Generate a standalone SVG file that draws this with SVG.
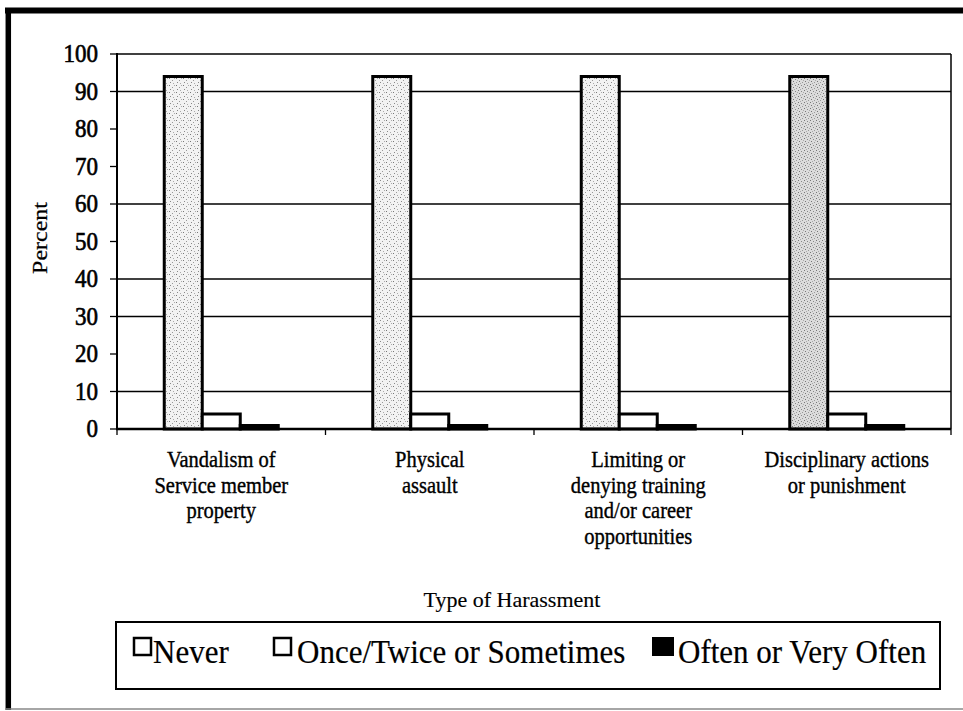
<svg xmlns="http://www.w3.org/2000/svg" width="963" height="711" viewBox="0 0 963 711">
<style>
text{font-family:"Liberation Serif","Times New Roman",serif;fill:#000}
.tick{font-size:23px;text-anchor:end;stroke:#000;stroke-width:0.6}
.cat{font-size:20.5px;text-anchor:middle;stroke:#000;stroke-width:0.35}
.leg{font-size:31px;stroke:#000;stroke-width:0.2}
.grid{stroke:#000;stroke-width:1.3}
.never{stroke:#000;stroke-width:3}
.once{fill:#fff;stroke:#000;stroke-width:3}
.often{fill:#000;stroke:#000;stroke-width:3}
.tk{stroke:#000;stroke-width:1.3}
</style>
<defs>
<pattern id="stip" width="7" height="7" patternUnits="userSpaceOnUse">
<rect width="7" height="7" fill="#f2f2f2"/>
<rect x="1" y="1" width="1" height="1" fill="#777"/>
<rect x="4" y="3" width="1" height="1" fill="#999"/>
<rect x="2" y="5" width="1" height="1" fill="#888"/>
<rect x="5" y="6" width="1" height="1" fill="#aaa"/>
<rect x="6" y="1" width="1" height="1" fill="#aaa"/>
</pattern>
<pattern id="stip2" width="6" height="6" patternUnits="userSpaceOnUse">
<rect width="6" height="6" fill="#dcdcdc"/>
<rect x="0" y="0" width="1" height="1" fill="#777"/>
<rect x="3" y="1" width="1" height="1" fill="#888"/>
<rect x="1" y="3" width="1" height="1" fill="#777"/>
<rect x="4" y="4" width="1" height="1" fill="#999"/>
<rect x="2" y="5" width="1" height="1" fill="#aaa"/>
<rect x="5" y="2" width="1" height="1" fill="#aaa"/>
</pattern>
</defs>
<rect width="963" height="711" fill="#fff"/>
<g id="frame">
<line x1="5" y1="10.5" x2="963" y2="10.5" stroke="#000" stroke-width="6"/>
<line x1="8.3" y1="8" x2="8.3" y2="710" stroke="#000" stroke-width="5.5"/>
<line x1="5" y1="709" x2="963" y2="709" stroke="#888" stroke-width="1.5"/>
</g>
<g id="plot-area">
<line class="grid" x1="117" y1="91.5" x2="951" y2="91.5"/>
<line class="grid" x1="117" y1="204" x2="951" y2="204"/>
<line class="grid" x1="117" y1="279" x2="951" y2="279"/>
<line class="grid" x1="117" y1="316.5" x2="951" y2="316.5"/>
<line class="grid" x1="117" y1="391.5" x2="951" y2="391.5"/>
<line x1="117" y1="54" x2="951" y2="54" stroke="#000" stroke-width="1.5"/>
<line x1="951" y1="54" x2="951" y2="429" stroke="#000" stroke-width="1.5"/>
</g>
<g id="y-axis">
<line x1="117" y1="53" x2="117" y2="430" stroke="#000" stroke-width="2"/>
<g class="tk">
<line x1="110" y1="54" x2="117" y2="54"/>
<line x1="110" y1="91.5" x2="117" y2="91.5"/>
<line x1="110" y1="129" x2="117" y2="129"/>
<line x1="110" y1="166.5" x2="117" y2="166.5"/>
<line x1="110" y1="204" x2="117" y2="204"/>
<line x1="110" y1="241.5" x2="117" y2="241.5"/>
<line x1="110" y1="279" x2="117" y2="279"/>
<line x1="110" y1="316.5" x2="117" y2="316.5"/>
<line x1="110" y1="354" x2="117" y2="354"/>
<line x1="110" y1="391.5" x2="117" y2="391.5"/>
<line x1="110" y1="429" x2="117" y2="429"/>
</g>
<text class="tick" transform="translate(98 62) scale(1 1.12)">100</text>
<text class="tick" transform="translate(98 99.5) scale(1 1.12)">90</text>
<text class="tick" transform="translate(98 137) scale(1 1.12)">80</text>
<text class="tick" transform="translate(98 174.5) scale(1 1.12)">70</text>
<text class="tick" transform="translate(98 212) scale(1 1.12)">60</text>
<text class="tick" transform="translate(98 249.5) scale(1 1.12)">50</text>
<text class="tick" transform="translate(98 287) scale(1 1.12)">40</text>
<text class="tick" transform="translate(98 324.5) scale(1 1.12)">30</text>
<text class="tick" transform="translate(98 362) scale(1 1.12)">20</text>
<text class="tick" transform="translate(98 399.5) scale(1 1.12)">10</text>
<text class="tick" transform="translate(98 437) scale(1 1.12)">0</text>
<text font-size="22" text-anchor="middle" stroke="#000" stroke-width="0.25" transform="translate(47 238) rotate(-90) scale(1.09 1)">Percent</text>
</g>
<g id="bars-vandalism">
<rect class="never" x="164.25" y="76.5" width="38" height="352.5" fill="url(#stip)"/>
<rect class="once" x="202.25" y="414" width="38" height="15"/>
<rect class="often" x="240.25" y="425.5" width="38" height="3.5"/>
</g>
<g id="bars-physical">
<rect class="never" x="372.75" y="76.5" width="38" height="352.5" fill="url(#stip)"/>
<rect class="once" x="410.75" y="414" width="38" height="15"/>
<rect class="often" x="448.75" y="425.5" width="38" height="3.5"/>
</g>
<g id="bars-limiting">
<rect class="never" x="581.25" y="76.5" width="38" height="352.5" fill="url(#stip)"/>
<rect class="once" x="619.25" y="414" width="38" height="15"/>
<rect class="often" x="657.25" y="425.5" width="38" height="3.5"/>
</g>
<g id="bars-disciplinary">
<rect class="never" x="789.75" y="76.5" width="38" height="352.5" fill="url(#stip2)"/>
<rect class="once" x="827.75" y="414" width="38" height="15"/>
<rect class="often" x="865.75" y="425.5" width="38" height="3.5"/>
</g>
<g id="x-axis">
<line x1="116" y1="429" x2="951" y2="429" stroke="#000" stroke-width="2.7"/>
<g class="tk">
<line x1="117" y1="429" x2="117" y2="435"/>
<line x1="325.5" y1="429" x2="325.5" y2="435"/>
<line x1="534" y1="429" x2="534" y2="435"/>
<line x1="742.5" y1="429" x2="742.5" y2="435"/>
<line x1="951" y1="429" x2="951" y2="435"/>
</g>
<text class="cat" transform="translate(221.25 467) scale(1 1.1)"><tspan x="0" y="0">Vandalism of</tspan><tspan x="0" dy="23.2">Service member</tspan><tspan x="0" dy="23.2">property</tspan></text>
<text class="cat" transform="translate(429.75 467) scale(1 1.1)"><tspan x="0" y="0">Physical</tspan><tspan x="0" dy="23.2">assault</tspan></text>
<text class="cat" transform="translate(638.25 467) scale(1 1.1)"><tspan x="0" y="0">Limiting or</tspan><tspan x="0" dy="23.2">denying training</tspan><tspan x="0" dy="23.2">and/or career</tspan><tspan x="0" dy="23.2">opportunities</tspan></text>
<text class="cat" transform="translate(846.75 467) scale(1 1.1)"><tspan x="0" y="0">Disciplinary actions</tspan><tspan x="0" dy="23.2">or punishment</tspan></text>
<text x="512" y="607" font-size="22" text-anchor="middle" stroke="#000" stroke-width="0.15">Type of Harassment</text>
</g>
<g id="legend">
<rect x="116" y="622" width="824" height="67" fill="#fff" stroke="#000" stroke-width="2"/>
<rect x="134" y="638" width="17" height="17" fill="#fff" stroke="#000" stroke-width="2.5"/>
<text class="leg" transform="translate(153 663) scale(1 1.1)">Never</text>
<rect x="274" y="638" width="17" height="17" fill="#fff" stroke="#000" stroke-width="2.5"/>
<text class="leg" transform="translate(297 663) scale(1 1.1)">Once/Twice or Sometimes</text>
<rect x="652" y="637" width="22" height="19" fill="#000"/>
<text class="leg" transform="translate(678 663) scale(1 1.1)">Often or Very Often</text>
</g>
</svg>
